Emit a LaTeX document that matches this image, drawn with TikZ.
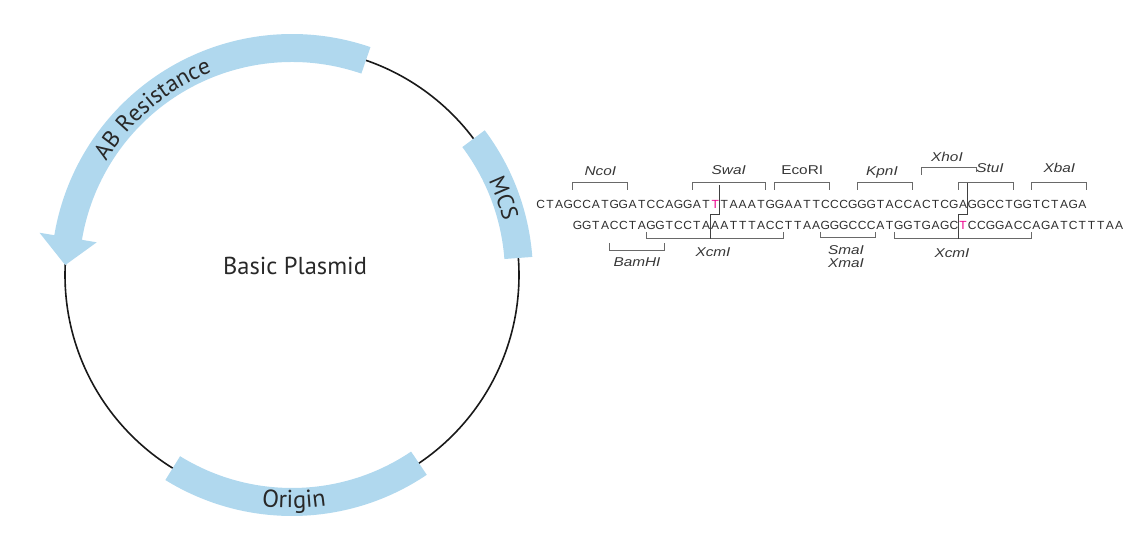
\documentclass[tikz,border=0pt]{standalone}
\usepackage{fontspec}
\setmainfont{Liberation Sans}
\newfontfamily\plasfont{PT Sans}
\newfontfamily\seqfont[FakeStretch=1.02]{Liberation Sans}
\newfontfamily\labfont[FakeStretch=1.2]{Liberation Sans}
\usetikzlibrary{decorations.text}
\definecolor{bandblue}{RGB}{176,216,238}
\definecolor{plastxt}{RGB}{40,40,40}
\definecolor{seqtxt}{RGB}{45,45,45}
\definecolor{labtxt}{RGB}{55,55,55}
\definecolor{brk}{RGB}{105,105,105}
\definecolor{pinkT}{RGB}{236,0,140}
\newcommand\seqchars[1]{\seqloop#1\relax}
\def\seqloop#1{\ifx\relax#1\else\makebox[9.18pt]{#1}\expandafter\seqloop\fi}
\newcommand\pinkchar[1]{\textcolor{pinkT}{\makebox[9.18pt]{#1}}}
\tikzset{
  band/.style={fill=bandblue},
  circline/.style={draw=black!90, line width=1.6pt},
  seqstrand/.style={font=\seqfont\fontsize{11.8}{13}\selectfont, text=seqtxt, inner sep=0pt, anchor=base west},
  lab/.style={font=\labfont\fontsize{12.8}{14}\selectfont, text=labtxt, inner sep=0pt, anchor=base},
  bracketline/.style={draw=brk, line width=1pt},
  cutline/.style={draw=black!75, line width=1pt},
  curvedtext/.style={decorate, decoration={text along path, text align=center, text={#1}}}
}
\begin{document}
\begin{tikzpicture}[x=1pt,y=1pt]
\useasboundingbox (0,0) rectangle (1130,540);
% ---------------- plasmid ----------------
\begin{scope}[shift={(292pt,265pt)}]
  \draw[circline] (0,0) circle[radius=227pt];
  % AB resistance arrow
  \fill[band] (71:213pt) arc[start angle=71,end angle=170.5,radius=213pt]
     -- (170.5:198pt) -- (177.5:227pt) -- (170.5:256pt) -- (170.5:241pt)
     arc[start angle=170.5,end angle=71,radius=241pt] -- cycle;
  % MCS
  \fill[band] (4.3:213pt) arc[start angle=4.3,end angle=36.9,radius=213pt]
     -- (36.9:241pt) arc[start angle=36.9,end angle=4.3,radius=241pt] -- cycle;
  % Origin
  \fill[band] (238.3:213pt) arc[start angle=238.3,end angle=304,radius=213pt]
     -- (304:241pt) arc[start angle=304,end angle=238.3,radius=241pt] -- cycle;
  \path[curvedtext={|\plasfont\fontsize{23.5}{24}\selectfont\color{plastxt}|AB Resistance}]
     (170:218pt) arc[start angle=170,end angle=90,radius=218pt];
  \path[curvedtext={|\plasfont\fontsize{23}{24}\selectfont\color{plastxt}|MCS}]
     (38:218pt) arc[start angle=38,end angle=2,radius=218pt];
  \path[curvedtext={|\plasfont\fontsize{24.5}{25}\selectfont\color{plastxt}|Origin}]
     (245:233pt) arc[start angle=245,end angle=296,radius=233pt];
\end{scope}
\node[font=\plasfont\fontsize{24.5}{27}\selectfont, text=plastxt, anchor=base, inner sep=0pt] (title) at (295,265) {Basic Plasmid};
% ---------------- sequence ----------------
\node[seqstrand] (topstrand) at (536,331.5)
  {\seqchars{CTAGCCATGGATCCAGGAT}\pinkchar{T}\seqchars{TAAATGGAATTCCCGGGTACCACTCGAGGCCTGGTCTAGA}};
\node[seqstrand] (botstrand) at (572.72,310)
  {\seqchars{GGTACCTAGGTCCTAAATTTACCTTAAGGGCCCATGGTGAGC}\pinkchar{T}\seqchars{CCGGACCAGATCTTTAA}};
% brackets above top strand (char n spans 536+(n-1)*9.18 .. 536+n*9.18)
\draw[bracketline] (572.72,350) -- (572.72,357) -- (627.80,357) -- (627.80,350); % NcoI 5-10
\draw[bracketline] (692.06,350) -- (692.06,357) -- (765.50,357) -- (765.50,350); % SwaI 18-25
\draw[bracketline] (774.68,350) -- (774.68,357) -- (829.76,357) -- (829.76,350); % EcoRI 27-32
\draw[bracketline] (857.30,350) -- (857.30,357) -- (912.38,357) -- (912.38,350); % KpnI 36-41
\draw[bracketline] (921.56,365) -- (921.56,372) -- (976.64,372) -- (976.64,368); % XhoI 43-48
\draw[bracketline] (958.28,350) -- (958.28,357) -- (1013.36,357) -- (1013.36,350); % StuI 47-52
\draw[bracketline] (1031.72,350) -- (1031.72,357) -- (1086.80,357) -- (1086.80,350); % XbaI 55-60
% brackets below bottom strand
\draw[bracketline] (609.44,297) -- (609.44,289) -- (664.52,289) -- (664.52,297); % BamHI 9-14
\draw[bracketline] (646.16,308) -- (646.16,301) -- (783.86,301) -- (783.86,308); % XcmI 13-27
\draw[bracketline] (820.58,308) -- (820.58,302) -- (875.66,302) -- (875.66,308); % SmaI 32-37
\draw[bracketline] (894.02,308) -- (894.02,301) -- (1031.72,301) -- (1031.72,308); % XcmI 40-54
% XcmI cut lines
\draw[cutline] (719.60,355) -- (719.60,325) -- (710.42,325) -- (710.42,301);
\draw[cutline] (967.46,357) -- (967.46,325) -- (958.28,325) -- (958.28,301);
% labels
\node[lab] (lNco) at (600.3,364) {\textit{NcoI}};
\node[lab] (lSwa) at (728.8,365) {\textit{SwaI}};
\node[lab] (lEco) at (802.2,365) {EcoRI};
\node[lab] (lKpn) at (882,364) {\textit{KpnI}};
\node[lab] (lXho) at (947,378) {\textit{XhoI}};
\node[lab] (lStu) at (990,367) {\textit{StuI}};
\node[lab] (lXba) at (1059.3,367) {\textit{XbaI}};
\node[lab] (lBam) at (637,273) {\textit{BamHI}};
\node[lab] (lXcm1) at (713,283) {\textit{XcmI}};
\node[lab] (lSma) at (846,285) {\textit{SmaI}};
\node[lab] (lXma) at (846,272) {\textit{XmaI}};
\node[lab] (lXcm2) at (952,282) {\textit{XcmI}};
\end{tikzpicture}
\end{document}
